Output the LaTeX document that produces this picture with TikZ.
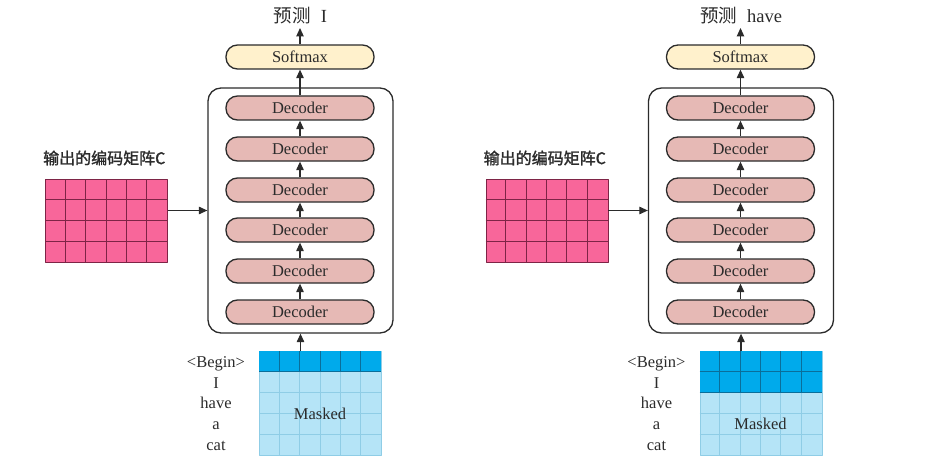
\documentclass[tikz,border=0pt]{standalone}
\usepackage{fontspec}
\setmainfont{Liberation Serif}
\newfontfamily\cjk{Noto Sans CJK SC}
\newfontfamily\cjkb{Noto Sans CJK SC}[FakeBold=1.6]
\usetikzlibrary{arrows.meta}
\definecolor{ink}{HTML}{2B2B2B}
\definecolor{softfill}{HTML}{FFF1CC}
\definecolor{decfill}{HTML}{E6B9B5}
\definecolor{pinkfill}{HTML}{F8669A}
\definecolor{pinkline}{HTML}{7E2446}
\definecolor{darkblue}{HTML}{00AAEB}
\definecolor{darkblueline}{HTML}{0A6E9A}
\definecolor{lightblue}{HTML}{B5E4F7}
\definecolor{lightblueline}{HTML}{8FCDE6}
\tikzset{
  box/.style={draw=ink, line width=1.3pt, rounded corners=11.5pt, minimum width=148pt,
    minimum height=24pt, inner sep=0pt, font=\fontsize{16.5}{18}\selectfont, text=ink},
  decbox/.style={box, fill=decfill},
  softbox/.style={box, fill=softfill},
  stackbox/.style={draw=ink, line width=1.3pt, rounded corners=13pt, minimum width=185pt,
    minimum height=245pt, inner sep=0pt},
  conn/.style={draw=ink, line width=1.1pt, -{Triangle[length=8.5pt,width=7.5pt]}},
  matbox/.style={minimum width=122pt, inner sep=0pt, anchor=north west, line width=0.8pt},
  txt/.style={text=ink, inner sep=0pt}
}
\newcommand\drawpanel[4]{%
\begin{scope}[xshift=#1pt, name prefix=#2-]
  \node[txt, font=\fontsize{18.5}{20}\selectfont] (pred) at (300.5,16) {{\cjk 预测}\hspace{10pt}#4};
  \node[softbox] (soft) at (300,57) {Softmax};
  \node[stackbox] (stack) at (300.5,210.5) {};
  \foreach \i/\y in {1/312,2/271,3/230,4/190,5/149,6/108}
    \node[decbox] (dec\i) at (300,\y) {Decoder};
  \foreach \i/\j in {1/2,2/3,3/4,4/5,5/6}
    \draw[conn] (dec\i) -- (dec\j);
  \draw[conn] (dec6) -- (soft);
  \coordinate (top) at (300,28);
  \draw[conn] (soft) -- (top);
  % encoder matrix C
  \node[txt, anchor=west, font=\cjkb\fontsize{16}{18}\selectfont] (clabel) at (43,158) {输出的编码矩阵C};
  \node[matbox, draw=pinkline, fill=pinkfill, minimum height=83pt] (C) at (45,179) {};
  \foreach \k in {1,...,5}
    \draw[pinkline, line width=0.8pt] (45+\k*20.333,179) -- (45+\k*20.333,262);
  \foreach \r in {1,2,3}
    \draw[pinkline, line width=0.8pt] (45,179+\r*20.75) -- (167,179+\r*20.75);
  \draw[conn] (C.east |- stack.west) -- (stack.west);
  % masked input matrix
  \node[matbox, draw=lightblueline, fill=lightblue, minimum height=104pt] (M) at (259,351) {};
  \fill[darkblue] (259,351) rectangle (381,351+#3*20.8);
  \foreach \k in {1,...,5}{
    \draw[lightblueline, line width=0.7pt] (259+\k*20.333,351+#3*20.8) -- (259+\k*20.333,455);
    \draw[darkblueline, line width=0.7pt] (259+\k*20.333,351) -- (259+\k*20.333,351+#3*20.8);
  }
  \foreach \r in {1,...,4}{
    \ifnum\r>#3\relax
      \draw[lightblueline, line width=0.7pt] (259,351+\r*20.8) -- (381,351+\r*20.8);
    \else
      \draw[darkblueline, line width=0.7pt] (259,351+\r*20.8) -- (381,351+\r*20.8);
    \fi
  }
  \node[txt, font=\fontsize{16.5}{18}\selectfont] (mlabel) at (320,{(351+#3*20.8+455)/2}) {Masked};
  \draw[conn] (stack.south |- M.north) -- (stack.south);
  \node[txt, align=center, font=\fontsize{16.5}{20.8}\selectfont] (words) at (216,403.5)
    {<Begin>\\I\\have\\a\\cat};
\end{scope}}
\begin{document}
\begin{tikzpicture}[x=1pt,y=-1pt,line join=round]
  \useasboundingbox (0,0) rectangle (926,468);
  \drawpanel{0}{L}{1}{I}
  \drawpanel{440.5}{R}{2}{have}
\end{tikzpicture}
\end{document}
